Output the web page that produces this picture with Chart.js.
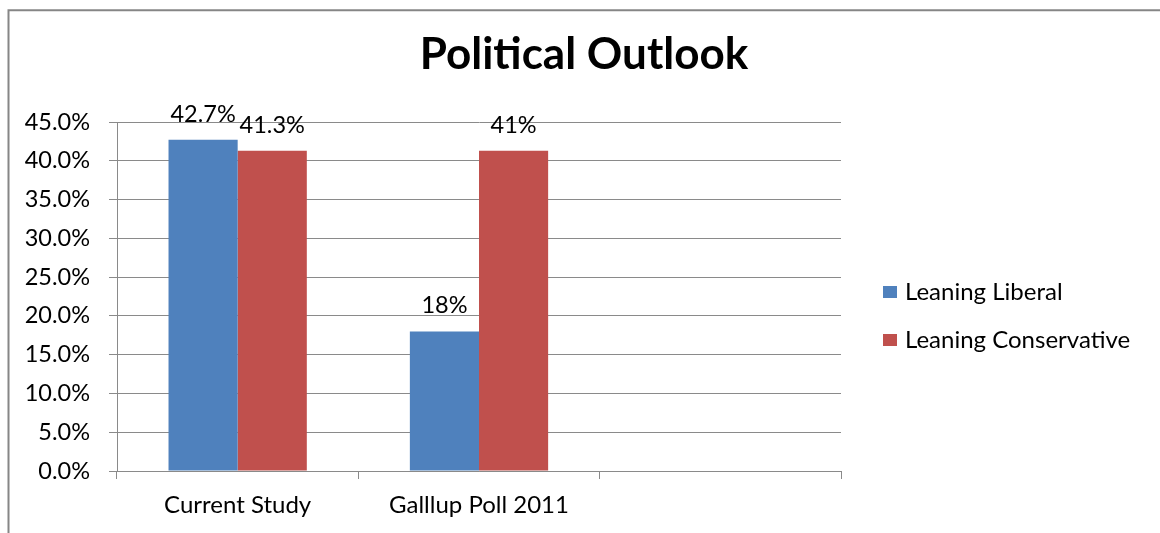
<!DOCTYPE html>
<html>
<head>
<meta charset="utf-8">
<script src="https://cdn.jsdelivr.net/npm/chart.js@4.4.1/dist/chart.umd.min.js"></script>
<style>
  html, body { margin: 0; padding: 0; background: #ffffff; }
  #wrap { position: relative; width: 1160px; height: 533px; }
  canvas { display: block; }
</style>
</head>
<body>
<div id="wrap"><canvas id="c" width="1160" height="533"></canvas></div>
<script>
const categories = ["Current Study", "Galllup Poll 2011", ""];
const liberalValues = [42.7, 18, null];
const conservativeValues = [41.3, 41.3, null];
const liberalLabels = ["42.7%", "18%", ""];
const conservativeLabels = ["41.3%", "41%", ""];
const seriesNames = ["Leaning Liberal", "Leaning Conservative"];
const seriesColors = ["#4F81BD", "#C0504D"];
const yTicks = [0, 5, 10, 15, 20, 25, 30, 35, 40, 45];
const titleText = "Political Outlook";

const FONT = "Lato, 'Open Sans', sans-serif";
const GRID = "#8a8a8a";

const frame = {
  id: 'frame',
  beforeDraw(chart) {
    const ctx = chart.ctx;
    ctx.save();
    ctx.fillStyle = '#fff';
    ctx.fillRect(0, 0, chart.width, chart.height);
    ctx.strokeStyle = '#868686';
    ctx.lineWidth = 2;
    ctx.beginPath();
    ctx.moveTo(8.5, chart.height + 2);
    ctx.lineTo(8.5, 10.3);
    ctx.lineTo(chart.width + 2, 10.3);
    ctx.stroke();
    ctx.restore();
  }
};

const valueLabels = {
  id: 'valueLabels',
  afterDatasetsDraw(chart) {
    const ctx = chart.ctx;
    const texts = [liberalLabels, conservativeLabels];
    ctx.save();
    ctx.font = "23.5px " + FONT;
    ctx.fillStyle = '#000';
    ctx.textAlign = 'center';
    ctx.textBaseline = 'alphabetic';
    chart.data.datasets.forEach((ds, di) => {
      const meta = chart.getDatasetMeta(di);
      meta.data.forEach((bar, i) => {
        const t = texts[di][i];
        if (!t || ds.data[i] == null) return;
        ctx.fillText(t, bar.x, bar.y - 18);
      });
    });
    ctx.restore();
  }
};

const sideLegend = {
  id: 'sideLegend',
  afterDraw(chart) {
    const ctx = chart.ctx;
    ctx.save();
    ctx.font = "24px " + FONT;
    ctx.textBaseline = 'middle';
    ctx.textAlign = 'left';
    chart.data.datasets.forEach((ds, di) => {
      const cy = 292 + di * 48;
      ctx.fillStyle = ds.backgroundColor;
      ctx.fillRect(883, cy - 6, 14, 12);
      ctx.fillStyle = '#000';
      ctx.fillText(ds.label, 905, cy);
    });
    ctx.restore();
  }
};

new Chart(document.getElementById('c'), {
  type: 'bar',
  data: {
    labels: categories,
    datasets: [
      { label: seriesNames[0], data: liberalValues, backgroundColor: seriesColors[0] },
      { label: seriesNames[1], data: conservativeValues, backgroundColor: seriesColors[1] }
    ]
  },
  options: {
    responsive: false,
    animation: false,
    devicePixelRatio: 1,
    layout: { padding: { left: 8, right: 0, top: 0, bottom: 0 } },
    datasets: { bar: { barPercentage: 1.0, categoryPercentage: 0.573, borderWidth: 0 } },
    plugins: {
      legend: { display: false },
      tooltip: { enabled: false },
      title: {
        display: true,
        text: titleText,
        color: '#000',
        font: { family: FONT, size: 44, weight: 'bold', lineHeight: 1.2 },
        padding: { top: 28, bottom: 41.2 }
      }
    },
    scales: {
      x: {
        offset: true,
        grid: { display: true, offset: true, drawOnChartArea: false, drawTicks: true, tickLength: 8, color: GRID, lineWidth: 1 },
        border: { display: true, color: GRID, width: 1 },
        ticks: { color: '#000', font: { family: FONT, size: 24 }, padding: 12, maxRotation: 0, autoSkip: false },
        afterFit(scale) { scale.height = 62; }
      },
      y: {
        min: 0, max: 45,
        afterBuildTicks(scale) { scale.ticks = yTicks.map(v => ({ value: v })); },
        grid: { color: GRID, lineWidth: 1, drawTicks: true, tickLength: 8 },
        border: { display: true, color: GRID, width: 1 },
        ticks: { color: '#000', font: { family: FONT, size: 23.5 }, padding: 19, callback: v => v.toFixed(1) + '%' },
        afterFit(scale) { scale.width = 109; }
      },
      legendSpace: {
        type: 'linear',
        position: 'right',
        display: true,
        grid: { display: false, drawTicks: false },
        border: { display: false },
        ticks: { display: false },
        afterFit(scale) { scale.width = 319; }
      }
    }
  },
  plugins: [frame, valueLabels, sideLegend]
});
</script>
</body>
</html>
